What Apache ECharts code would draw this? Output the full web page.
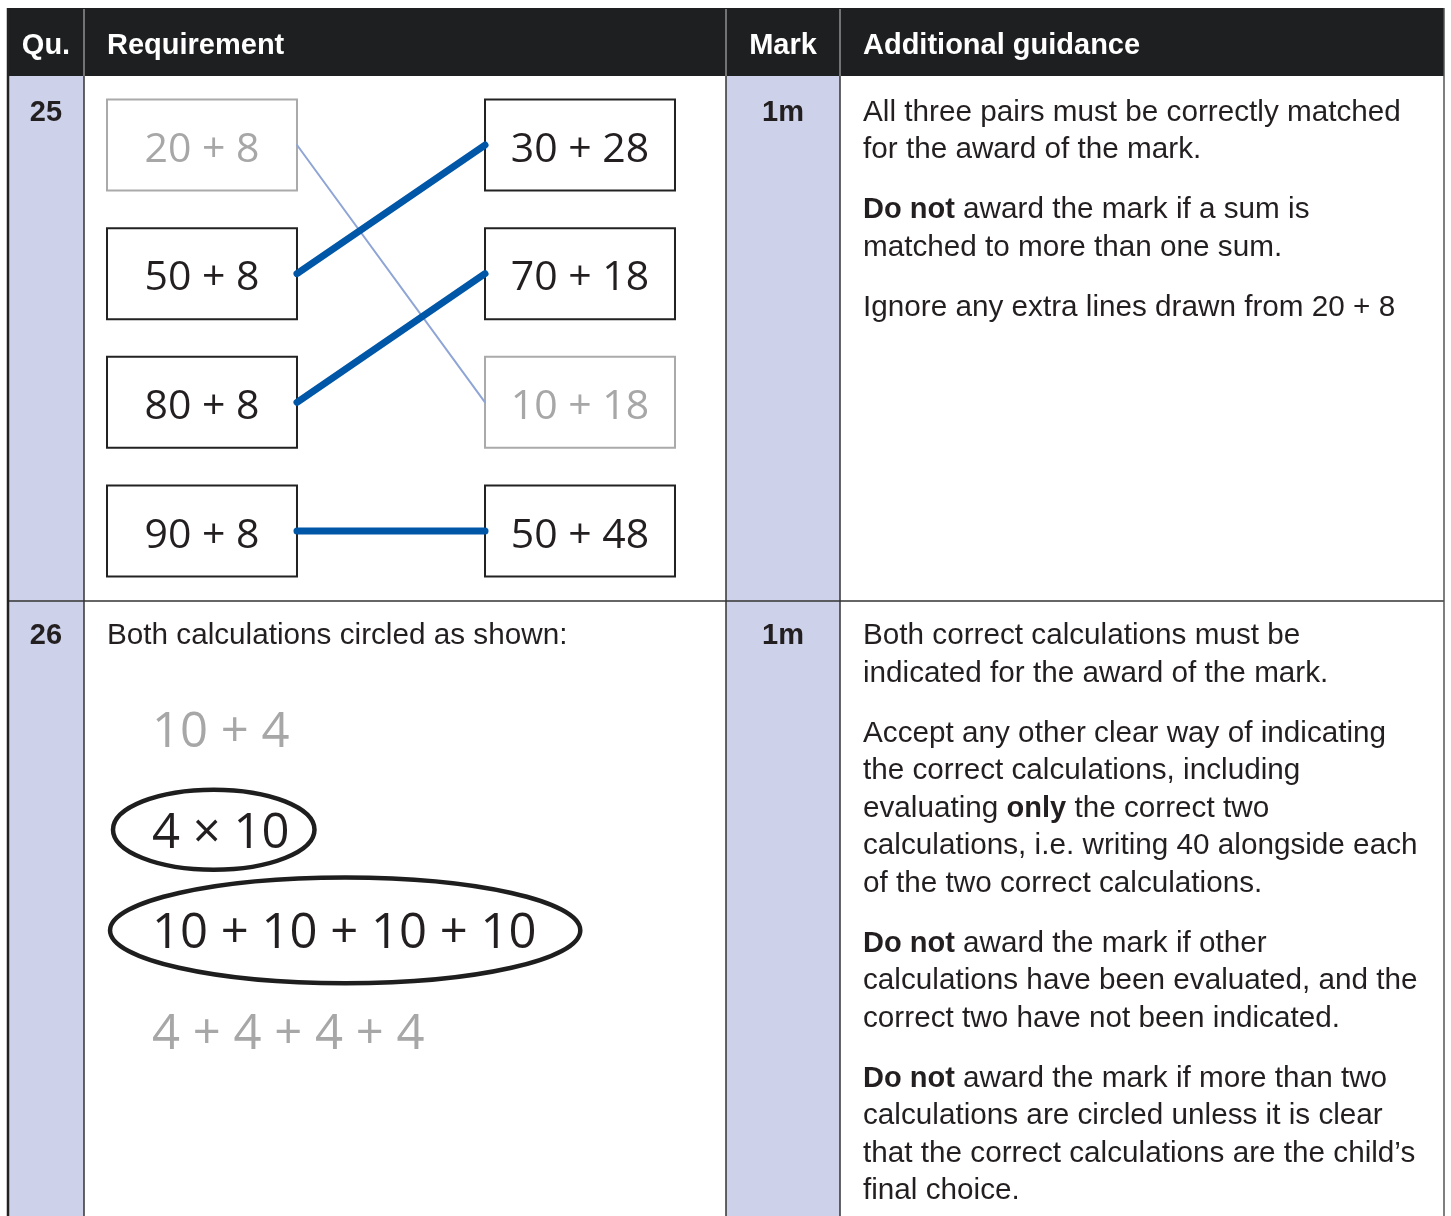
<!DOCTYPE html>
<html>
<head>
<meta charset="utf-8">
<script src="https://cdn.jsdelivr.net/npm/echarts@6/dist/echarts.min.js"></script>
<style>
  html, body { margin: 0; padding: 0; background: #fff; }
  #chart { width: 1451px; height: 1216px; }
</style>
</head>
<body>
<div id="chart"></div>
<script>
// ---- content ----
const headers = ['Qu.', 'Requirement', 'Mark', 'Additional guidance']
const questions = ['25', '26']
const marks = ['1m', '1m']

// question 25: matching boxes
const leftSums = ['20 + 8', '50 + 8', '80 + 8', '90 + 8']
const rightSums = ['30 + 28', '70 + 18', '10 + 18', '50 + 48']
const leftGrey = [true, false, false, false]
const rightGrey = [false, false, true, false]
// [left row, right row]
const correctLinks = [[1, 0], [2, 1], [3, 3]]
const extraLinks = [[0, 2]]

// question 26
const q26Intro = 'Both calculations circled as shown:'
const calculations = ['10 + 4', '4 × 10', '10 + 10 + 10 + 10', '4 + 4 + 4 + 4']
const circled = [false, true, true, false]

const guidance25 = [
  'All three pairs must be correctly matched\nfor the award of the mark.',
  '{b|Do not} award the mark if a sum is\nmatched to more than one sum.',
  'Ignore any extra lines drawn from 20 + 8'
]
const guidance26 = [
  'Both correct calculations must be\nindicated for the award of the mark.',
  'Accept any other clear way of indicating\nthe correct calculations, including\nevaluating {b|only} the correct two\ncalculations, i.e. writing 40 alongside each\nof the two correct calculations.',
  '{b|Do not} award the mark if other\ncalculations have been evaluated, and the\ncorrect two have not been indicated.',
  '{b|Do not} award the mark if more than two\ncalculations are circled unless it is clear\nthat the correct calculations are the child\u2019s\nfinal choice.'
]

// ---- layout / style ----
const colX = [8, 84, 726, 840, 1444]
const rowY = [8, 76, 601, 1230]
const SANS = '"Helvetica Neue", Helvetica, "Liberation Sans", Arial, sans-serif'
const SCHOOL = '"Open Sans", "Noto Sans", sans-serif'
const INK = '#231f20'
const GREY = '#a7a7a7'
const LAVENDER = '#cdd2ea'
const BOLD_SIZE = 29
const BODY_SIZE = 29.7
const LINE_H = 37.5
const PARA_GAP = 22.5
const BOX_W = 0.5026 // axis units
const BOX_H = 0.707

const measureCtx = document.createElement('canvas').getContext('2d')
function textWidth(t, font) {
  measureCtx.font = font
  return measureCtx.measureText(t).width
}

const chart = echarts.init(document.getElementById('chart'), null, { renderer: 'canvas' })

// table frame
const graphics = []
// lavender columns
;[0, 2].forEach(c => {
  graphics.push({ type: 'rect', z: 0, shape: { x: colX[c], y: rowY[1], width: colX[c + 1] - colX[c], height: rowY[3] - rowY[1] }, style: { fill: LAVENDER } })
})
// header band
graphics.push({ type: 'rect', z: 1, shape: { x: colX[0], y: rowY[0], width: colX[4] - colX[0], height: rowY[1] - rowY[0] }, style: { fill: '#1e1f21' } })
// header separators
;[1, 2, 3].forEach(c => {
  graphics.push({ type: 'line', z: 2, shape: { x1: colX[c], y1: rowY[0] + 1, x2: colX[c], y2: rowY[1] }, style: { stroke: '#c8c8c8', lineWidth: 1 } })
})
// body grid lines
;[1, 2, 3].forEach(c => {
  graphics.push({ type: 'line', z: 2, shape: { x1: colX[c], y1: rowY[1], x2: colX[c], y2: rowY[3] }, style: { stroke: '#333', lineWidth: 1.5 } })
})
graphics.push({ type: 'line', z: 2, shape: { x1: colX[0], y1: rowY[2], x2: colX[4], y2: rowY[2] }, style: { stroke: '#333', lineWidth: 1.5 } })
graphics.push({ type: 'line', z: 2, shape: { x1: colX[0], y1: rowY[0], x2: colX[0], y2: rowY[3] }, style: { stroke: '#222', lineWidth: 2.5 } })
graphics.push({ type: 'line', z: 2, shape: { x1: colX[4], y1: rowY[0], x2: colX[4], y2: rowY[3] }, style: { stroke: '#555', lineWidth: 1.5 } })

// header labels
headers.forEach((h, i) => {
  const centred = i === 0 || i === 2
  graphics.push({
    type: 'text', z: 3,
    x: centred ? (colX[i] + colX[i + 1]) / 2 : colX[i] + 23,
    y: (rowY[0] + rowY[1]) / 2 + 3.5,
    style: { text: h, fill: '#fff', fontSize: BOLD_SIZE, fontWeight: 'bold', fontFamily: SANS, align: centred ? 'center' : 'left', verticalAlign: 'middle' }
  })
})

// question numbers and marks
const firstLine = [112.5, 636]
questions.forEach((q, r) => {
  graphics.push({ type: 'text', z: 3, x: (colX[0] + colX[1]) / 2, y: firstLine[r], style: { text: q, fill: INK, fontSize: BOLD_SIZE, fontWeight: 'bold', fontFamily: SANS, align: 'center', verticalAlign: 'middle' } })
  graphics.push({ type: 'text', z: 3, x: (colX[2] + colX[3]) / 2, y: firstLine[r], style: { text: marks[r], fill: INK, fontSize: BOLD_SIZE, fontWeight: 'bold', fontFamily: SANS, align: 'center', verticalAlign: 'middle' } })
})

// guidance paragraphs
function addParagraphs(paras, firstCentre) {
  let y = firstCentre - LINE_H / 2
  paras.forEach(p => {
    graphics.push({
      type: 'text', z: 3, x: colX[3] + 23, y: y,
      style: {
        text: p, fill: INK, fontSize: BODY_SIZE, fontFamily: SANS, lineHeight: LINE_H,
        align: 'left', verticalAlign: 'top',
        rich: { b: { fontWeight: 'bold', fontSize: BOLD_SIZE, fontFamily: SANS, fill: INK, lineHeight: LINE_H } }
      }
    })
    y += p.split('\n').length * LINE_H + PARA_GAP
  })
}
addParagraphs(guidance25, firstLine[0])
addParagraphs(guidance26, firstLine[1])

graphics.push({ type: 'text', z: 3, x: colX[1] + 23, y: firstLine[1], style: { text: q26Intro, fill: INK, fontSize: BODY_SIZE, fontFamily: SANS, align: 'left', verticalAlign: 'middle' } })

// ---- series data ----
const boxItems = leftSums.map((s, i) => ({ col: 0, row: i, label: s, grey: leftGrey[i] }))
  .concat(rightSums.map((s, i) => ({ col: 1, row: i, label: s, grey: rightGrey[i] })))

function linkRender(width, color) {
  return function (params, api) {
    const from = api.coord([0, api.value(0)])
    const to = api.coord([1, api.value(1)])
    const half = api.size([BOX_W, 0])[0] / 2
    return {
      type: 'line',
      shape: { x1: from[0] + half, y1: from[1], x2: to[0] - half, y2: to[1] },
      style: { stroke: color, lineWidth: width, lineCap: 'round' }
    }
  }
}

const CALC_FONT = '49px ' + SCHOOL

chart.setOption({
  animation: false,
  graphic: { elements: graphics },
  grid: [
    { left: 107.5, top: 100, width: 567, height: 476 },
    { left: 152, top: 682.7, width: 430, height: 402.7 }
  ],
  xAxis: [
    { gridIndex: 0, type: 'value', min: -0.25, max: 1.25, show: false },
    { gridIndex: 1, type: 'value', min: 0, max: 1, show: false }
  ],
  yAxis: [
    { gridIndex: 0, type: 'value', min: -0.35, max: 3.35, inverse: true, show: false },
    { gridIndex: 1, type: 'value', min: -0.5, max: 3.5, inverse: true, show: false }
  ],
  series: [
    {
      type: 'custom', name: 'boxes', xAxisIndex: 0, yAxisIndex: 0, z: 4, silent: true,
      data: boxItems.map(b => [b.col, b.row]),
      renderItem(params, api) {
        const b = boxItems[params.dataIndex]
        const c = api.coord([api.value(0), api.value(1)])
        const s = api.size([BOX_W, BOX_H])
        return {
          type: 'group',
          children: [
            { type: 'rect', shape: { x: c[0] - s[0] / 2, y: c[1] - s[1] / 2, width: s[0], height: s[1] }, style: { fill: '#fff', stroke: b.grey ? '#aaaaaa' : '#222', lineWidth: 2 } },
            { type: 'text', x: c[0], y: c[1] + 5, style: { text: b.label, fill: b.grey ? GREY : INK, font: '41px ' + SCHOOL, align: 'center', verticalAlign: 'middle' } }
          ]
        }
      }
    },
    {
      type: 'custom', name: 'extra', xAxisIndex: 0, yAxisIndex: 0, z: 5, silent: true,
      data: extraLinks,
      renderItem: linkRender(2, '#8fa5d6')
    },
    {
      type: 'custom', name: 'matched', xAxisIndex: 0, yAxisIndex: 0, z: 6, silent: true,
      data: correctLinks,
      renderItem: linkRender(7, '#0057a8')
    },
    {
      type: 'custom', name: 'calculations', xAxisIndex: 1, yAxisIndex: 1, z: 4, silent: true,
      data: calculations.map((t, i) => [0, i]),
      renderItem(params, api) {
        const i = params.dataIndex
        const c = api.coord([api.value(0), api.value(1)])
        const t = calculations[i]
        const children = [
          { type: 'text', x: c[0], y: c[1], style: { text: t, fill: circled[i] ? INK : GREY, font: CALC_FONT, align: 'left', verticalAlign: 'middle' } }
        ]
        if (circled[i]) {
          const w = textWidth(t, CALC_FONT)
          const k = w - 138
          children.push({
            type: 'ellipse',
            shape: { cx: c[0] + w / 2 - 7 + 0.032 * k, cy: c[1] - 4, rx: w / 2 + 32 + 0.044 * k, ry: 40 + 0.052 * k },
            style: { fill: 'none', stroke: '#1e1e1e', lineWidth: 4.5 }
          })
        }
        return { type: 'group', children }
      }
    }
  ]
})
</script>
</body>
</html>
